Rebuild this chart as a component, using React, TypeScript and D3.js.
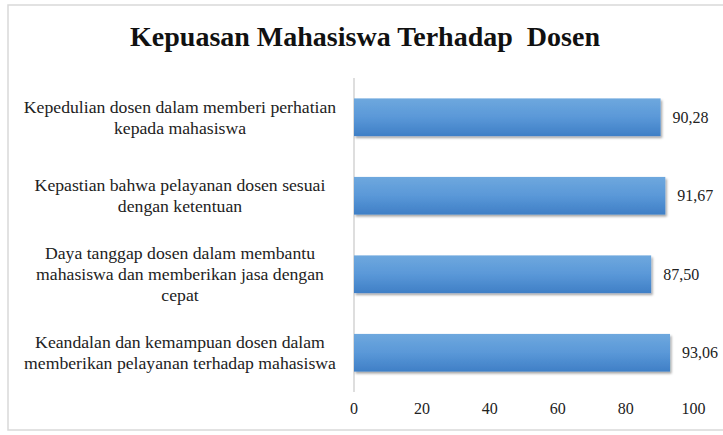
import React from "react";
import * as d3 from "d3";

const title = "Kepuasan Mahasiswa Terhadap  Dosen";
const categories: string[][] = [
  ["Kepedulian dosen dalam memberi perhatian", "kepada mahasiswa"],
  ["Kepastian bahwa pelayanan dosen sesuai", "dengan ketentuan"],
  ["Daya tanggap dosen dalam membantu", "mahasiswa dan memberikan jasa dengan", "cepat"],
  ["Keandalan dan kemampuan dosen dalam", "memberikan pelayanan terhadap mahasiswa"],
];
const values = [90.28, 91.67, 87.5, 93.06];
const ticks = [0, 20, 40, 60, 80, 100];

const W = 723;
const H = 435;
const x0 = 354;
const x1 = 693.6;
const yTop = 78;
const yBot = 392;
const serif = "'Liberation Serif', 'Times New Roman', serif";

export default function App() {
  const x = d3.scaleLinear().domain([0, 100]).range([x0, x1]);
  const y = d3
    .scaleBand<number>()
    .domain(d3.range(values.length))
    .range([yTop, yBot])
    .paddingInner(0.52)
    .paddingOuter(0.26);
  const fmt = (v: number) => v.toFixed(2).replace(".", ",");
  const lh = 21;
  return (
    <svg width={W} height={H} style={{ position: "absolute", left: 0, top: 0, background: "#fff" }}>
      <defs>
        <linearGradient id="barGrad" x1="0" y1="0" x2="0" y2="1">
          <stop offset="0%" stopColor="#6ea8de" />
          <stop offset="50%" stopColor="#5a98d8" />
          <stop offset="100%" stopColor="#3f7fc6" />
        </linearGradient>
        <filter id="shadow" x="-5%" y="-20%" width="115%" height="150%">
          <feDropShadow dx="1.5" dy="2" stdDeviation="1.3" floodColor="#000" floodOpacity="0.35" />
        </filter>
      </defs>
      <rect x={8} y={5} width={W + 5} height={425} fill="#fff" stroke="#d9d9d9" strokeWidth={1.5} />
      <text x={365} y={46} textAnchor="middle" fontFamily={serif} fontWeight="bold" fontSize={28} fill="#111" style={{ whiteSpace: "pre" }}>
        {title}
      </text>
      <line x1={x0} x2={x0} y1={yTop} y2={yBot} stroke="#c8c8c8" strokeWidth={1.2} />
      {values.map((v, i) => {
        const by = y(i)!;
        const bh = y.bandwidth();
        const lines = categories[i];
        const cy = by + bh / 2;
        return (
          <g key={i}>
            <rect x={x(0)} y={by} width={x(v) - x(0)} height={bh} fill="url(#barGrad)" filter="url(#shadow)" />
            <text x={x(v) + 12} y={cy} dy="0.35em" fontFamily={serif} fontSize={16} fill="#222">
              {fmt(v)}
            </text>
            {lines.map((ln, j) => (
              <text
                key={j}
                x={180}
                y={cy + (j - (lines.length - 1) / 2) * lh}
                dy="0.35em"
                textAnchor="middle"
                fontFamily={serif}
                fontSize={17.7}
                fill="#222"
              >
                {ln}
              </text>
            ))}
          </g>
        );
      })}
      {ticks.map((t) => (
        <text key={t} x={x(t)} y={408} dy="0.35em" textAnchor="middle" fontFamily={serif} fontSize={16} fill="#222">
          {t}
        </text>
      ))}
    </svg>
  );
}
